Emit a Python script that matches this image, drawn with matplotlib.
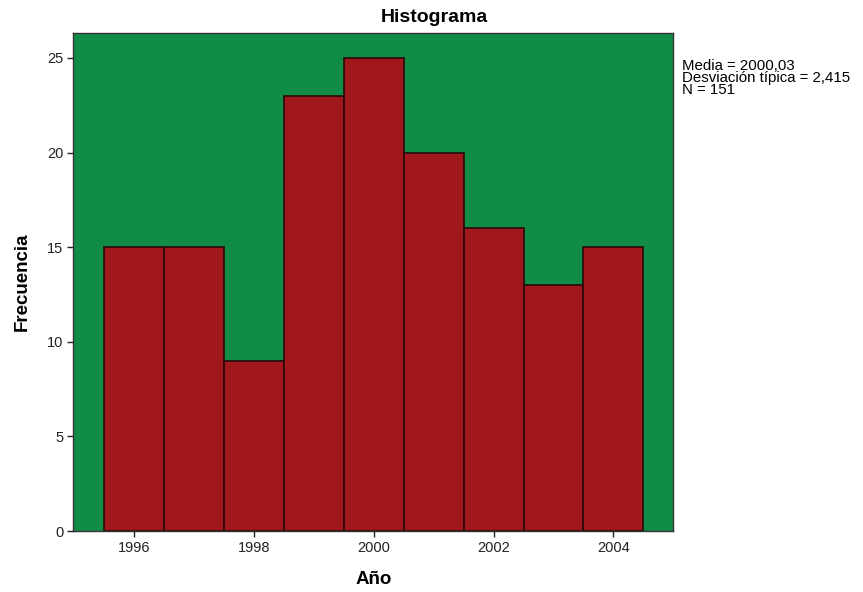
import numpy as np
import matplotlib.pyplot as plt

plt.rcParams['font.family'] = ['Liberation Sans', 'DejaVu Sans']

# Histogram data (frequency per year)
years = [1996, 1997, 1998, 1999, 2000, 2001, 2002, 2003, 2004]
counts = [15, 15, 9, 23, 25, 20, 16, 13, 15]
xticks = [1996, 1998, 2000, 2002, 2004]
yticks = [0, 5, 10, 15, 20, 25]
stats_lines = ['Media = 2000,03', 'Desviación típica = 2,415', 'N = 151']

fig = plt.figure(figsize=(8.63, 5.92), dpi=100)
ax = fig.add_axes([0.0849, 0.103, 0.6953, 0.8407])
ax.set_facecolor('#118C46')

ax.bar(years, counts, width=1.0, color='#A0171C', edgecolor='#2a0808', linewidth=1.2)

ax.set_xlim(1994.98, 2005.0)
ax.set_ylim(0, 26.3)
ax.set_xticks(xticks)
ax.set_yticks(yticks)
ax.tick_params(direction='out', length=4, width=1, colors='#222222', labelsize=10.5, pad=3)
for sp in ax.spines.values():
    sp.set_color('#333333')
    sp.set_linewidth(1)

ax.set_xlabel('Año', fontsize=13.5, fontweight='bold', labelpad=12)
ax.set_ylabel('Frecuencia', fontsize=13.5, fontweight='bold', labelpad=12)

fig.text(434 / 863, 1 - 18 / 592, 'Histograma', ha='center', va='center',
         fontsize=14, fontweight='bold')
fig.text(682 / 863, 1 - 59 / 592, '\n'.join(stats_lines), ha='left', va='top',
         fontsize=10.8, linespacing=0.82)

plt.savefig('out.png', dpi=100)
